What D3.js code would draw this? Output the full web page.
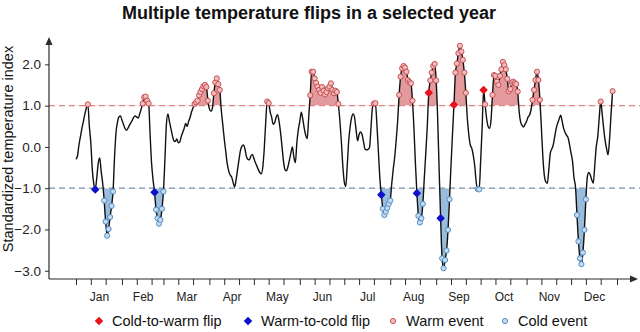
<!DOCTYPE html>
<html>
<head>
<meta charset="utf-8">
<script src="https://cdn.jsdelivr.net/npm/d3@7"></script>
<style>
  body { margin: 0; background: #fff; }
  svg { display: block; font-family: "Liberation Sans", Arial, Helvetica, sans-serif; }
</style>
</head>
<body>
<svg id="chart" width="640" height="332"></svg>
<script>
// Calendar
const monthLabels  = ["Jan","Feb","Mar","Apr","May","Jun","Jul","Aug","Sep","Oct","Nov","Dec"];
const monthLengths = [31,28,31,30,31,30,31,31,30,31,30,31];

// Daily standardized temperature index, starting 1 January
const dailyIndex = [
  -0.30,-0.22, 0.05, 0.25, 0.45, 0.62, 0.80, 0.95, 1.03, 0.50,
   0.10,-0.55,-0.90,-1.03,-0.75,-0.40,-0.27,-0.60,-0.88,-1.30,
  -1.81,-2.15,-1.99,-1.70,-1.43,-1.08,-0.25, 0.35, 0.60, 0.73,
   0.75, 0.65, 0.55, 0.45, 0.40, 0.45, 0.52, 0.58, 0.65, 0.72,
   0.75, 0.72, 0.70, 0.80, 0.92, 1.05, 1.20, 1.22, 1.12, 1.05,
   0.30,-0.40,-0.80,-1.10,-1.52,-1.73,-1.86,-1.77,-1.50,-1.08,
  -0.30, 0.55, 0.80, 0.62, 0.45, 0.28, 0.15, 0.13, 0.19, 0.10,
   0.12, 0.25, 0.35, 0.45, 0.57, 0.49, 0.62, 0.72, 0.85, 0.95,
   1.04, 1.08, 1.12, 1.25, 1.33, 1.40, 1.47, 1.50, 1.45, 1.12,
   0.92, 0.86, 0.93, 1.30, 1.56, 1.66, 1.52, 1.38, 0.90, 0.55,
   0.20,-0.10,-0.40,-0.58,-0.68,-0.73,-0.86,-0.97,-0.80,-0.55,
  -0.30,-0.08, 0.02, 0.05,-0.05,-0.24,-0.30,-0.31,-0.22,-0.18,
  -0.28,-0.38,-0.46,-0.55,-0.62,-0.65,-0.50,-0.05, 0.60, 1.10,
   1.06, 0.85, 0.72, 0.55, 0.58, 0.72, 0.78, 0.62, 0.35, 0.00,
  -0.35,-0.55,-0.58,-0.48,-0.32,-0.15, 0.00,-0.25,-0.38, 0.10,
   0.42, 0.62, 0.84, 0.68, 0.45, 0.28, 0.20, 0.72, 1.25, 1.82,
   1.82, 1.66, 1.55, 1.46, 1.38, 1.31, 1.45, 1.36, 1.27, 1.33,
   1.42, 1.46, 1.54, 1.38, 1.30, 1.36, 1.33, 1.04, 0.65, 0.15,
  -0.45,-0.85,-0.96,-0.45, 0.15, 0.50, 0.72, 0.80, 0.70, 0.40,
   0.15, 0.30, 0.36, 0.30, 0.12,-0.05,-0.07,-0.06,-0.02, 0.45,
   0.95, 1.05, 1.06, 0.55,-0.10,-0.75,-1.16,-1.50,-1.65,-1.57,
  -1.48,-1.38,-1.30,-0.90,-0.55,-0.25, 0.15, 0.62, 1.26, 1.70,
   1.90, 1.96, 1.92, 1.82, 1.62, 1.57, 1.54, 1.12, 0.45,-0.40,
  -1.12,-1.67,-1.83,-1.73,-1.38,-0.75,-0.15, 0.50, 1.31, 1.61,
   1.80, 1.96, 2.01, 1.61, 0.70,-0.55,-1.73,-2.70,-2.94,-2.74,
  -2.51,-2.01,-1.27,-0.45, 0.30, 1.02, 1.80, 2.02, 2.27, 2.45,
   2.31, 2.11, 1.80, 1.31, 0.70, 0.30, 0.05,-0.03,-0.20,-0.45,
  -0.85,-1.02,-1.03,-0.35, 0.45, 1.38, 1.03, 0.70, 0.50, 0.45,
   0.65, 1.26, 1.74, 1.72, 1.58, 1.50, 1.72, 1.88, 2.06, 1.98,
   1.88, 1.65, 1.35, 1.40, 1.55, 1.58, 1.55, 1.52, 1.34, 0.85,
   0.60, 0.52, 0.48, 0.55, 0.62, 0.72, 0.77, 0.90, 1.14, 1.38,
   1.62, 1.82, 1.62, 1.14, 0.45,-0.25,-0.70,-0.85,-0.88,-0.55,
  -0.15,-0.05, 0.05, 0.25, 0.45, 0.58, 0.68, 0.77, 0.62, 0.45,
   0.35, 0.28, 0.22, 0.05,-0.15,-0.35,-0.75,-0.97,-1.65,-2.29,
  -2.70,-2.84,-2.56,-2.01,-1.27,-0.72,-0.62,-0.68,-0.80,-0.88,
  -0.45, 0.00, 0.25, 0.70, 1.10, 0.80, 0.45, 0.15,-0.05,-0.19,
   0.20, 0.80, 1.35
];

// Days (0 = 1 January) on which a flip occurs
const warmToColdFlipDays = [13, 53, 206, 230, 246];
const coldToWarmFlipDays = [238, 255, 275];

const yTickValues = [2, 1, 0, -1, -2, -3];
const warmThreshold = 1.0;
const coldThreshold = -1.0;

const legendItems = [
  { label: "Cold-to-warm flip", kind: "c2w" },
  { label: "Warm-to-cold flip", kind: "w2c" },
  { label: "Warm event", kind: "warm" },
  { label: "Cold event", kind: "cold" }
];

// ---- styles ----
const C = {
  axis: "#2b2b2b",
  line: "#111",
  warmFill: "#e39a9c",
  coldFill: "#9bbddd",
  warmDot: "#f3bcbc", warmDotStroke: "#c2444a",
  coldDot: "#c3daf0", coldDotStroke: "#4a84bd",
  c2w: "#e8141b", w2c: "#1010cc",
  warmDash: "#e08585", coldDash: "#7d90a8"
};

const svg = d3.select("#chart");
const yearDays = d3.sum(monthLengths);
const x = d3.scaleLinear().domain([0, yearDays]).range([76, 617]);
const y = d3.scaleLinear().domain([-3.2, 2.65]).range([279, 37.5]);
const axisLeftX = 49, axisRightX = 638, axisBottomY = 279, axisTopY = 37;

const points = dailyIndex.map((v, i) => ({ day: i, v }));

// Title
svg.append("text")
  .attr("x", 309).attr("y", 19)
  .attr("text-anchor", "middle")
  .attr("font-size", 18).attr("font-weight", "bold").attr("fill", "#111")
  .text("Multiple temperature flips in a selected year");

// Y label
svg.append("text")
  .attr("transform", `translate(13,149) rotate(-90)`)
  .attr("text-anchor", "middle")
  .attr("font-size", 14.5).attr("fill", "#111")
  .text("Standardized temperature index");

// Shaded exceedance areas, clipped at the thresholds
const defs = svg.append("defs");
defs.append("clipPath").attr("id", "clipWarm").append("rect")
  .attr("x", 0).attr("y", 0).attr("width", 640).attr("height", y(warmThreshold));
defs.append("clipPath").attr("id", "clipCold").append("rect")
  .attr("x", 0).attr("y", y(coldThreshold)).attr("width", 640).attr("height", 332 - y(coldThreshold));

const curve = d3.curveMonotoneX;
const areaTo = t => d3.area().curve(curve)
  .x(d => x(d.day)).y0(y(t)).y1(d => y(d.v));

svg.append("path").datum(points)
  .attr("d", areaTo(warmThreshold)).attr("fill", C.warmFill)
  .attr("clip-path", "url(#clipWarm)");
svg.append("path").datum(points)
  .attr("d", areaTo(coldThreshold)).attr("fill", C.coldFill)
  .attr("clip-path", "url(#clipCold)");

// Threshold lines
[[warmThreshold, C.warmDash], [coldThreshold, C.coldDash]].forEach(([t, col]) => {
  svg.append("line")
    .attr("x1", axisLeftX).attr("x2", 640)
    .attr("y1", y(t)).attr("y2", y(t))
    .attr("stroke", col).attr("stroke-width", 1.3)
    .attr("stroke-dasharray", "6,4");
});

// Axes
const yAxis = d3.axisLeft(y).tickValues(yTickValues).tickSize(4).tickPadding(4)
  .tickFormat(d3.format(".1f"));
const gy = svg.append("g").attr("transform", `translate(${axisLeftX},0)`).call(yAxis);
gy.select(".domain").remove();
gy.selectAll(".tick line").attr("stroke", C.axis);
gy.selectAll(".tick text").attr("font-size", 13.5).attr("fill", "#222")
  .attr("font-family", "Liberation Sans, Arial, sans-serif");

const monthStarts = d3.cumsum([0, ...monthLengths]);
const tickDays = [];
monthLengths.forEach((len, m) => {
  const s = monthStarts[m];
  tickDays.push(s, s + 10, s + 20);
});
tickDays.push(yearDays);

const xTicks = d3.axisBottom(x).tickValues(tickDays).tickSize(6).tickFormat("");
const gx = svg.append("g").attr("transform", `translate(0,${axisBottomY})`).call(xTicks);
gx.select(".domain").remove();
gx.selectAll(".tick line").attr("stroke", C.axis);

const monthMids = monthLengths.map((len, m) => monthStarts[m] + len / 2);
const xLabels = d3.axisBottom(x).tickValues(monthMids).tickSize(0).tickPadding(13)
  .tickFormat((d, i) => monthLabels[i]);
const gxl = svg.append("g").attr("transform", `translate(0,${axisBottomY})`).call(xLabels);
gxl.select(".domain").remove();
gxl.selectAll(".tick text").attr("font-size", 12).attr("fill", "#222")
  .attr("font-family", "Liberation Sans, Arial, sans-serif");

// Axis lines with arrowheads
svg.append("line").attr("x1", axisLeftX).attr("x2", axisLeftX)
  .attr("y1", axisBottomY).attr("y2", axisTopY + 4)
  .attr("stroke", C.axis).attr("stroke-width", 1.2);
svg.append("path")
  .attr("d", `M${axisLeftX},${axisTopY} l-3.5,8 l7,0 z`).attr("fill", C.axis);
svg.append("line").attr("x1", axisLeftX).attr("x2", axisRightX - 4)
  .attr("y1", axisBottomY).attr("y2", axisBottomY)
  .attr("stroke", C.axis).attr("stroke-width", 1.2);
svg.append("path")
  .attr("d", `M${axisRightX},${axisBottomY} l-8,-3.5 l0,7 z`).attr("fill", C.axis);

// Index line
svg.append("path").datum(points)
  .attr("d", d3.line().curve(curve).x(d => x(d.day)).y(d => y(d.v)))
  .attr("fill", "none").attr("stroke", C.line).attr("stroke-width", 1.4);

// Event days
const warmPts = points.filter(d => d.v > warmThreshold);
const coldPts = points.filter(d => d.v < coldThreshold);
svg.append("g").selectAll("circle").data(warmPts).join("circle")
  .attr("cx", d => x(d.day)).attr("cy", d => y(d.v)).attr("r", 2.6)
  .attr("fill", C.warmDot).attr("stroke", C.warmDotStroke).attr("stroke-width", 0.9);
svg.append("g").selectAll("circle").data(coldPts).join("circle")
  .attr("cx", d => x(d.day)).attr("cy", d => y(d.v)).attr("r", 2.6)
  .attr("fill", C.coldDot).attr("stroke", C.coldDotStroke).attr("stroke-width", 0.9);

// Flip markers
const diamond = d3.symbol().type(d3.symbolSquare).size(36);
function drawDiamonds(days, color) {
  svg.append("g").selectAll("path").data(days.map(d => points[d])).join("path")
    .attr("d", diamond)
    .attr("transform", d => `translate(${x(d.day)},${y(d.v)}) rotate(45)`)
    .attr("fill", color);
}
drawDiamonds(coldToWarmFlipDays, C.c2w);
drawDiamonds(warmToColdFlipDays, C.w2c);

// Legend
const legend = svg.append("g").attr("transform", "translate(0,321)");
const legendX = [99, 248, 393, 505];
legendItems.forEach((it, i) => {
  const g = legend.append("g").attr("transform", `translate(${legendX[i]},0)`);
  if (it.kind === "c2w" || it.kind === "w2c") {
    g.append("path").attr("d", diamond).attr("transform", "rotate(45)")
      .attr("fill", it.kind === "c2w" ? C.c2w : C.w2c);
  } else {
    g.append("circle").attr("r", 2.6)
      .attr("fill", it.kind === "warm" ? C.warmDot : C.coldDot)
      .attr("stroke", it.kind === "warm" ? C.warmDotStroke : C.coldDotStroke)
      .attr("stroke-width", 0.9);
  }
  g.append("text").attr("x", 13).attr("y", 5)
    .attr("font-size", 14.5).attr("fill", "#111").text(it.label);
});
</script>
</body>
</html>
